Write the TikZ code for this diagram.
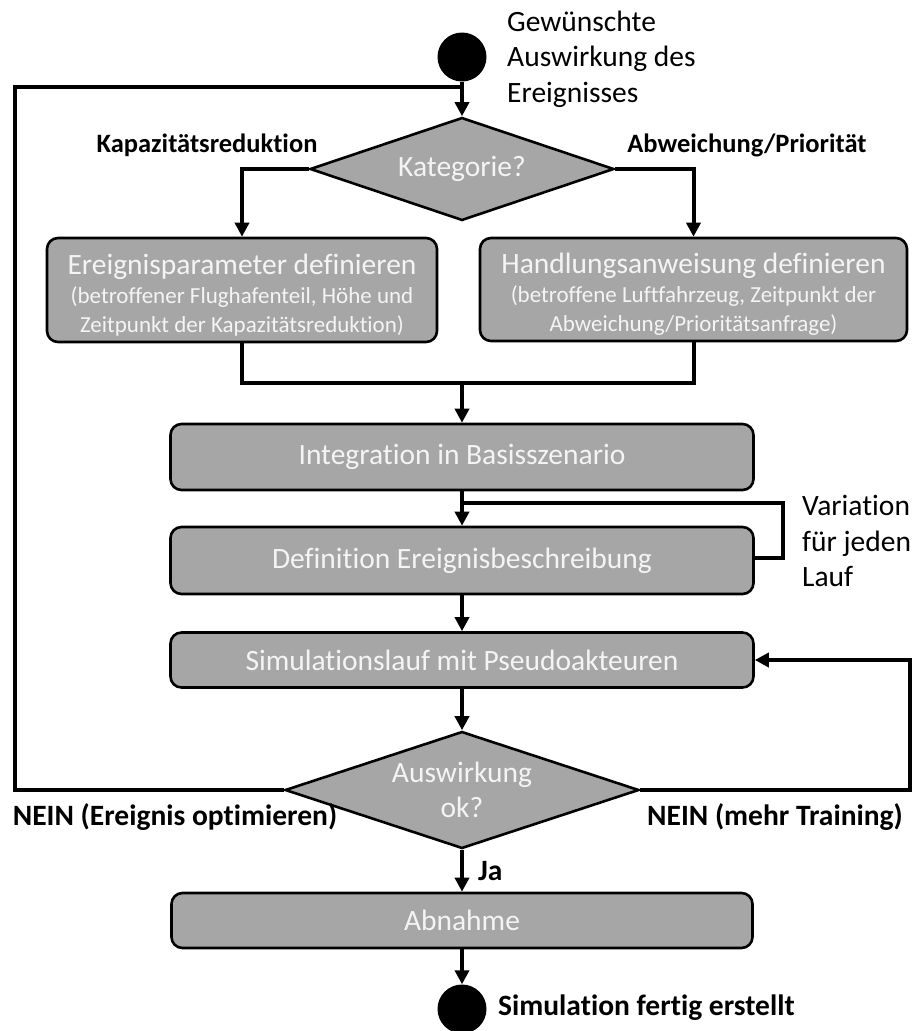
\documentclass[tikz,border=0pt]{standalone}
\usepackage{fontspec}
\setmainfont[Ligatures=NoCommon]{Carlito}
\usetikzlibrary{shapes.geometric,arrows.meta}
\definecolor{boxgray}{HTML}{A6A6A6}
\definecolor{boxtext}{HTML}{F4F4F4}
\begin{document}
\begin{tikzpicture}[x=1pt,y=-1pt,
  proc/.style={draw=black, line width=2.6pt, fill=boxgray, rounded corners=11pt,
    text=boxtext, align=center, inner sep=0pt,
    font=\fontsize{29.5}{35}\selectfont},
  decision/.style={diamond, draw=black, line width=2.6pt, fill=boxgray,
    text=boxtext, align=center, inner sep=0pt,
    font=\fontsize{29.5}{35}\selectfont},
  terminal/.style={circle, fill=black, draw=none, minimum size=49pt, inner sep=0pt},
  link/.style={line width=4pt},
  flow/.style={line width=4pt, -{Triangle[length=14pt,width=14pt]}},
  lbl/.style={inner sep=0pt, font=\bfseries\fontsize{26.5}{32}\selectfont},
  biglbl/.style={inner sep=0pt, font=\bfseries\fontsize{29.5}{35}\selectfont},
  note/.style={inner sep=0pt, align=left, font=\fontsize{29.5}{35.5}\selectfont}
]
\useasboundingbox (0,0) rectangle (914,1031);

% start and end points
\node[terminal] (start) at (462,57) {};
\node[note, anchor=west] (startlbl) at (507,59) {Gewünschte\\Auswirkung des\\Ereignisses};

% decision: event category
\node[decision, aspect=2.95, minimum width=304pt, minimum height=103pt] (kat) at (462,169) {Kategorie?};
\node[lbl] (kaplbl) at (207,145) {Kapazitätsreduktion};
\node[lbl] (abwlbl) at (747,145) {Abweichung/Priorität};

% parameter boxes
\node[proc, minimum width=390pt, minimum height=104pt] (ereig) at (242,290)
  {\rule{0pt}{30pt}Ereignisparameter definieren\\[-6pt]
   {\fontsize{23}{28}\selectfont (betroffener Flughafenteil, Höhe und}\\[-6pt]
   {\fontsize{23}{28}\selectfont Zeitpunkt der Kapazitätsreduktion)}};
\node[proc, minimum width=427pt, minimum height=103pt] (handl) at (693.5,289.5)
  {\rule{0pt}{30pt}Handlungsanweisung definieren\\[-6pt]
   {\fontsize{23}{28}\selectfont (betroffene Luftfahrzeug, Zeitpunkt der}\\[-6pt]
   {\fontsize{23}{28}\selectfont Abweichung/Prioritätsanfrage)}};

% main process chain
\node[proc, minimum width=583pt, minimum height=66pt] (integ) at (462,457) {Integration in Basisszenario};
\node[proc, minimum width=583pt, minimum height=67pt] (defin) at (462,560.5) {Definition Ereignisbeschreibung};
\node[note, anchor=west] (varlbl) at (802,541) {Variation\\für jeden\\Lauf};
\node[proc, minimum width=583pt, minimum height=55pt] (simul) at (462,660) {Simulationslauf mit Pseudoakteuren};

% decision: effect ok?
\node[decision, aspect=3.03, minimum width=354pt, minimum height=117pt] (ok) at (462,790) {Auswirkung\\ok?};
\node[biglbl] (neinl) at (175,817) {NEIN (Ereignis optimieren)};
\node[biglbl] (neinr) at (775,817) {NEIN (mehr Training)};

\node[proc, minimum width=581pt, minimum height=55pt] (abn) at (462,920.5) {Abnahme};
\node[terminal] (stop) at (462,1009) {};
\node[biglbl, anchor=west] (stoplbl) at (498,1008) {Simulation fertig erstellt};

% junction points of the connectors
\coordinate (topjoin) at (462,87);
\coordinate (merge) at (462,383);
\coordinate (varjoin) at (462,503);
\coordinate (varturn) at (783,503);
\coordinate (leftturn) at (15,790);
\coordinate (lefttop) at (15,87);
\coordinate (rightturn) at (910,790);

% connectors
\draw[flow] (start) -- (kat);
\draw[flow] (kat.west) -| (ereig.north);
\draw[flow] (kat.east) -| (handl.north);
\draw[link] (ereig.south) |- (handl.south |- merge) -- (handl.south);
\draw[flow] (merge) -- (integ.north);
\draw[flow] (integ.south) -- (defin.north);
\draw[link] (defin.east |- 0,558) -| (varturn) -- (varjoin);
\draw[flow] (defin.south) -- (simul.north);
\draw[flow] (simul.south) -- (ok.north);
\draw[link] (ok.west) -- (leftturn) -- (lefttop) -- (topjoin);
\draw[flow] (ok.east) -- (rightturn) |- (simul.east);
\draw[flow] (ok.south) -- node[biglbl, anchor=west, xshift=14pt] (ja) {Ja} (abn.north);
\draw[flow] (abn.south) -- (stop);
\end{tikzpicture}
\end{document}
